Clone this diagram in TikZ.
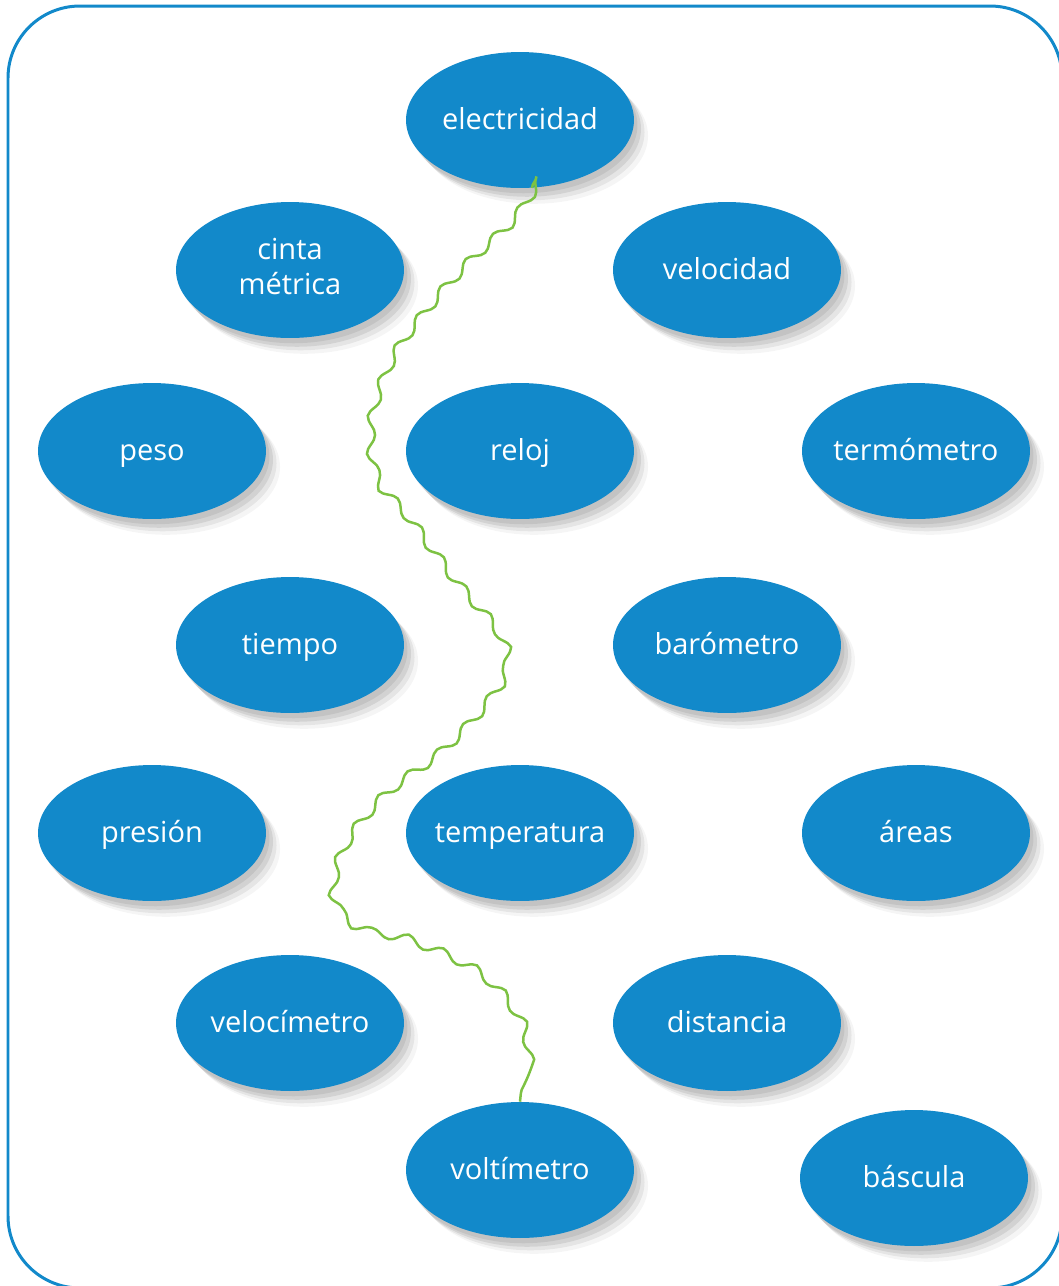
\documentclass[tikz,border=0pt]{standalone}
\usepackage{fontspec}
\setmainfont{Open Sans}
\usepackage{tikz}
\usetikzlibrary{shapes.geometric, shadows, decorations.pathmorphing}
\definecolor{conceptblue}{HTML}{1289CA}
\definecolor{wiregreen}{HTML}{7DC243}
\newcommand{\conceptstrut}{\rule[-0.25em]{0pt}{1.15em}}

\begin{document}
\begin{tikzpicture}[
    x=0.02cm, y=-0.02cm,
    font=\fontsize{16.5}{19.5}\selectfont,
    concept/.style={ellipse, fill=conceptblue, text=white, align=center,
        inner xsep=-0.4cm, inner ysep=0pt,
        minimum width=4.56cm, minimum height=2.72cm,
        execute at begin node=\conceptstrut, execute at end node=\conceptstrut,
        drop shadow={shadow xshift=2pt, shadow yshift=-3pt, opacity=0.18},
        drop shadow={shadow xshift=4pt, shadow yshift=-5pt, opacity=0.18},
        drop shadow={shadow xshift=6pt, shadow yshift=-7pt, opacity=0.14},
        drop shadow={shadow xshift=8pt, shadow yshift=-9pt, opacity=0.08}},
    frame/.style={draw=conceptblue, line width=0.06cm, rounded corners=1.44cm},
    wire/.style={wiregreen, line width=0.05cm, decorate,
        decoration={snake, mirror, segment length=0.74cm, amplitude=0.09cm}}
]
    \useasboundingbox (0,0) rectangle (1059,1286);
    \draw[frame] (8,6) rectangle (1062,1288);

    % Nodes
    \node[concept] (electricidad) at (520,120) {electricidad};
    \node[concept] (cinta) at (290,270) {cinta\\métrica};
    \node[concept] (velocidad) at (727,270) {velocidad};
    \node[concept] (peso) at (152,451) {peso};
    \node[concept] (reloj) at (520,451) {reloj};
    \node[concept] (termometro) at (916,451) {termómetro};
    \node[concept] (tiempo) at (290,645) {tiempo};
    \node[concept] (barometro) at (727,645) {barómetro};
    \node[concept] (presion) at (152,833) {presión};
    \node[concept] (temperatura) at (520,833) {temperatura};
    \node[concept] (areas) at (916,833) {áreas};
    \node[concept] (velocimetro) at (290,1023) {velocímetro};
    \node[concept] (distancia) at (727,1023) {distancia};
    \node[concept] (voltimetro) at (520,1170) {voltímetro};
    \node[concept] (bascula) at (914,1178) {báscula};

    % Connections
    \draw[wire] plot[smooth, tension=0.6] coordinates {(electricidad.-80) (505,230) (460,273)
        (420,318) (383,370) (362,433) (368,490) (400,530) (447,593) (490,645) (498,680)
        (478,715) (433,763) (375,808) (335,860) (325,910) (350,940) (400,952) (470,985)
        (510,1030) (520,1070) (voltimetro.north)};
\end{tikzpicture}
\end{document}
